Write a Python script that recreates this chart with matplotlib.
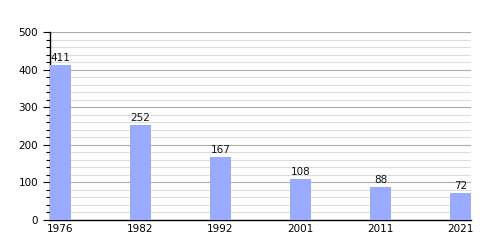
import matplotlib
matplotlib.use("Agg")
import matplotlib.pyplot as plt
from matplotlib.ticker import MultipleLocator

years = ["1976", "1982", "1992", "2001", "2011", "2021"]
values = [411, 252, 167, 108, 88, 72]

fig = plt.figure(figsize=(5, 2.5), dpi=100)
ax = fig.add_axes([0.1, 0.12, 0.842, 0.752])
x = list(range(len(years)))
ax.bar(x, values, width=0.26, color="#99aaff", zorder=3)
for xi, v in zip(x, values):
    ax.text(xi, v + 6, str(v), ha="center", va="bottom", fontsize=7.5, color="#111111", zorder=4)

ax.set_xlim(-0.13, 5.13)
ax.set_ylim(0, 500)
ax.set_xticks(x)
ax.set_xticklabels(years, fontsize=7.5)
ax.yaxis.set_major_locator(MultipleLocator(100))
ax.yaxis.set_minor_locator(MultipleLocator(20))
ax.tick_params(axis="y", which="major", labelsize=7.5, length=5, width=0.8)
ax.tick_params(axis="y", which="minor", length=3, width=0.8)
ax.tick_params(axis="x", length=0, pad=3)
ax.grid(axis="y", which="major", color="#aaaaaa", linewidth=0.8, zorder=1)
ax.grid(axis="y", which="minor", color="#dddddd", linewidth=0.8, zorder=1)
for s in ["top", "right"]:
    ax.spines[s].set_visible(False)
ax.spines["left"].set_linewidth(1.0)
ax.spines["bottom"].set_linewidth(1.0)
fig.savefig("out.png", dpi=100)
